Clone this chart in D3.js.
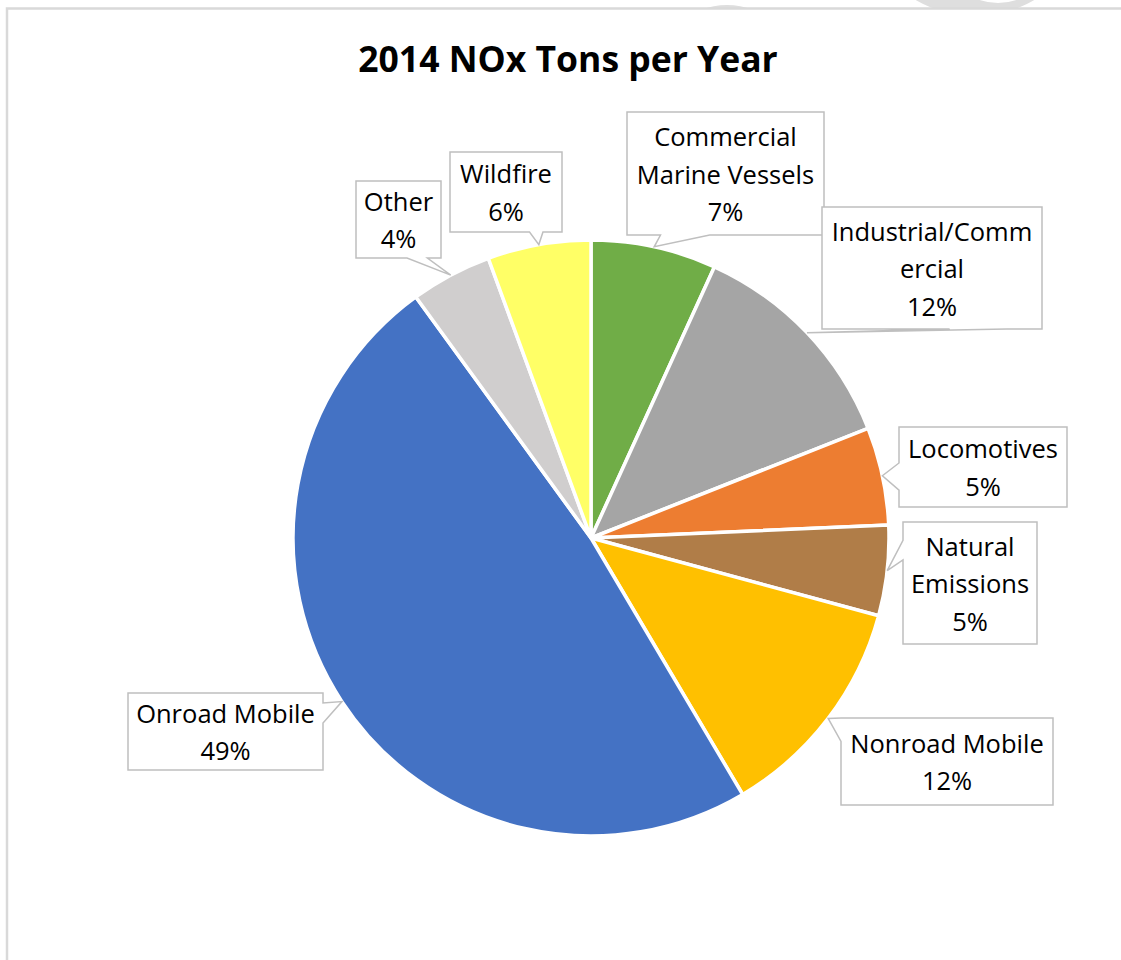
<!DOCTYPE html>
<html>
 <head>
 <title>2014 NOx Tons per Year | D3</title>
    <script src="https://d3js.org/d3.v7.min.js" charset="utf-8"></script>
 <style>
body {
 margin: 0;
 background: white;
 font-family: "Open Sans", "Noto Sans", sans-serif;
}
</style>
  </head>
  <body>
  <div id="chart"></div>
  <script>
    // data, clockwise from 12 o'clock
    var categories = ["Commercial Marine Vessels", "Industrial/Commercial", "Locomotives",
      "Natural Emissions", "Nonroad Mobile", "Onroad Mobile", "Other", "Wildfire"];
    var shares = [6.8, 12.2, 5.3, 4.9, 12.3, 48.5, 4.4, 5.6];
    // label lines as wrapped in the picture
    var labelLines = [
      ["Commercial", "Marine Vessels"],
      ["Industrial/Comm", "ercial"],
      ["Locomotives"],
      ["Natural", "Emissions"],
      ["Nonroad Mobile"],
      ["Onroad Mobile"],
      ["Other"],
      ["Wildfire"]
    ];
    var colors = ["#70ad47", "#a5a5a5", "#ed7d31", "#b07d48", "#ffc000", "#4472c4", "#d0cece", "#ffff66"];

    // callout box placement (x, y, w, h) and pointer base as fractions of the side it leaves from
    var callouts = [
      {x: 627, y: 112, w: 197, h: 123, base: [0.17, 0.42]},
      {x: 822, y: 207, w: 220, h: 122, base: [0.58, 0.84]},
      {x: 899, y: 427, w: 168, h: 80, base: [0.45, 0.79]},
      {x: 903, y: 522, w: 134, h: 122, base: [0.15, 0.31]},
      {x: 841, y: 718, w: 212, h: 87, base: [0.0, 0.27]},
      {x: 128, y: 693, w: 195, h: 77, base: [0.13, 0.39]},
      {x: 356, y: 181, w: 85, h: 77, base: [0.6, 0.84]},
      {x: 450, y: 152, w: 112, h: 80, base: [0.71, 0.83]}
    ];

    var width = 1121;
    var height = 960;
    var cx = 591, cy = 538, radius = 298;
    var lineGap = 37.5;

    var svg = d3.select( "#chart" )
     .append( "svg" )
     .attr( "width", width )
     .attr( "height", height );

    // faint watermark peeking over the top edge
    var wm = svg.append( "g" ).attr( "fill", "#dedede" );
    wm.append( "circle" ).attr( "cx", 727 ).attr( "cy", 73 ).attr( "r", 68 );
    wm.append( "circle" ).attr( "cx", 975 ).attr( "cy", -102 ).attr( "r", 118 );
    wm.append( "circle" ).attr( "cx", 998 ).attr( "cy", -55 ).attr( "r", 58 ).attr( "fill", "white" );

    // chart area
    svg.append( "rect" )
     .attr( "x", 7 ).attr( "y", 8.5 )
     .attr( "width", width + 20 ).attr( "height", height + 20 )
     .attr( "fill", "white" )
     .attr( "stroke", "#d9d9d9" )
     .attr( "stroke-width", 2.5 );

    svg.append( "text" )
     .attr( "x", 568 ).attr( "y", 72 )
     .attr( "text-anchor", "middle" )
     .attr( "font-size", 35.5 )
     .attr( "font-weight", "bold" )
     .attr( "fill", "#000" )
     .text( "2014 NOx Tons per Year" );

    var pie = d3.pie().sort( null ).value( function(d) { return d; } );
    var arcs = pie( shares );
    var arc = d3.arc().innerRadius( 0 ).outerRadius( radius );

    var g = svg.append( "g" ).attr( "transform", "translate(" + cx + "," + cy + ")" );
    g.selectAll( "path" )
     .data( arcs )
     .enter()
     .append( "path" )
     .attr( "d", arc )
     .attr( "fill", function(d, i) { return colors[i]; } )
     .attr( "stroke", "white" )
     .attr( "stroke-width", 3.5 )
     .attr( "stroke-linejoin", "round" );

    // callouts: box with a pointer to the middle of the slice's rim
    function calloutPath(b, tip) {
      var x0 = b.x, y0 = b.y, x1 = b.x + b.w, y1 = b.y + b.h;
      var p = [];
      if (tip[1] > y1) {
        var a = x0 + b.w * b.base[0], c = x0 + b.w * b.base[1];
        p = [[x0,y0],[x1,y0],[x1,y1],[c,y1],tip,[a,y1],[x0,y1]];
      } else if (tip[0] < x0) {
        var a2 = y0 + b.h * b.base[0], c2 = y0 + b.h * b.base[1];
        p = [[x0,y0],[x1,y0],[x1,y1],[x0,y1],[x0,c2],tip,[x0,a2]];
      } else {
        var a3 = y0 + b.h * b.base[0], c3 = y0 + b.h * b.base[1];
        p = [[x0,y0],[x1,y0],[x1,a3],tip,[x1,c3],[x1,y1],[x0,y1]];
      }
      return d3.line()( p ) + "Z";
    }

    var labels = svg.append( "g" );
    arcs.forEach( function(d, i) {
      var mid = (d.startAngle + d.endAngle) / 2;
      var tip = [cx + radius * Math.sin(mid), cy - radius * Math.cos(mid)];
      var b = callouts[i];
      labels.append( "path" )
       .attr( "d", calloutPath(b, tip) )
       .attr( "fill", "white" )
       .attr( "stroke", "#bfbfbf" )
       .attr( "stroke-width", 1.5 );
      var lines = labelLines[i].concat( [Math.round(shares[i]) + "%"] );
      var top = b.y + b.h / 2 - (lines.length - 1) * lineGap / 2;
      lines.forEach( function(t, k) {
        labels.append( "text" )
         .attr( "x", b.x + b.w / 2 )
         .attr( "y", top + k * lineGap + 10 )
         .attr( "text-anchor", "middle" )
         .attr( "font-size", 25.5 )
         .attr( "fill", "#000" )
         .text( t );
      });
    });
   </script>
 </body>
</html>
